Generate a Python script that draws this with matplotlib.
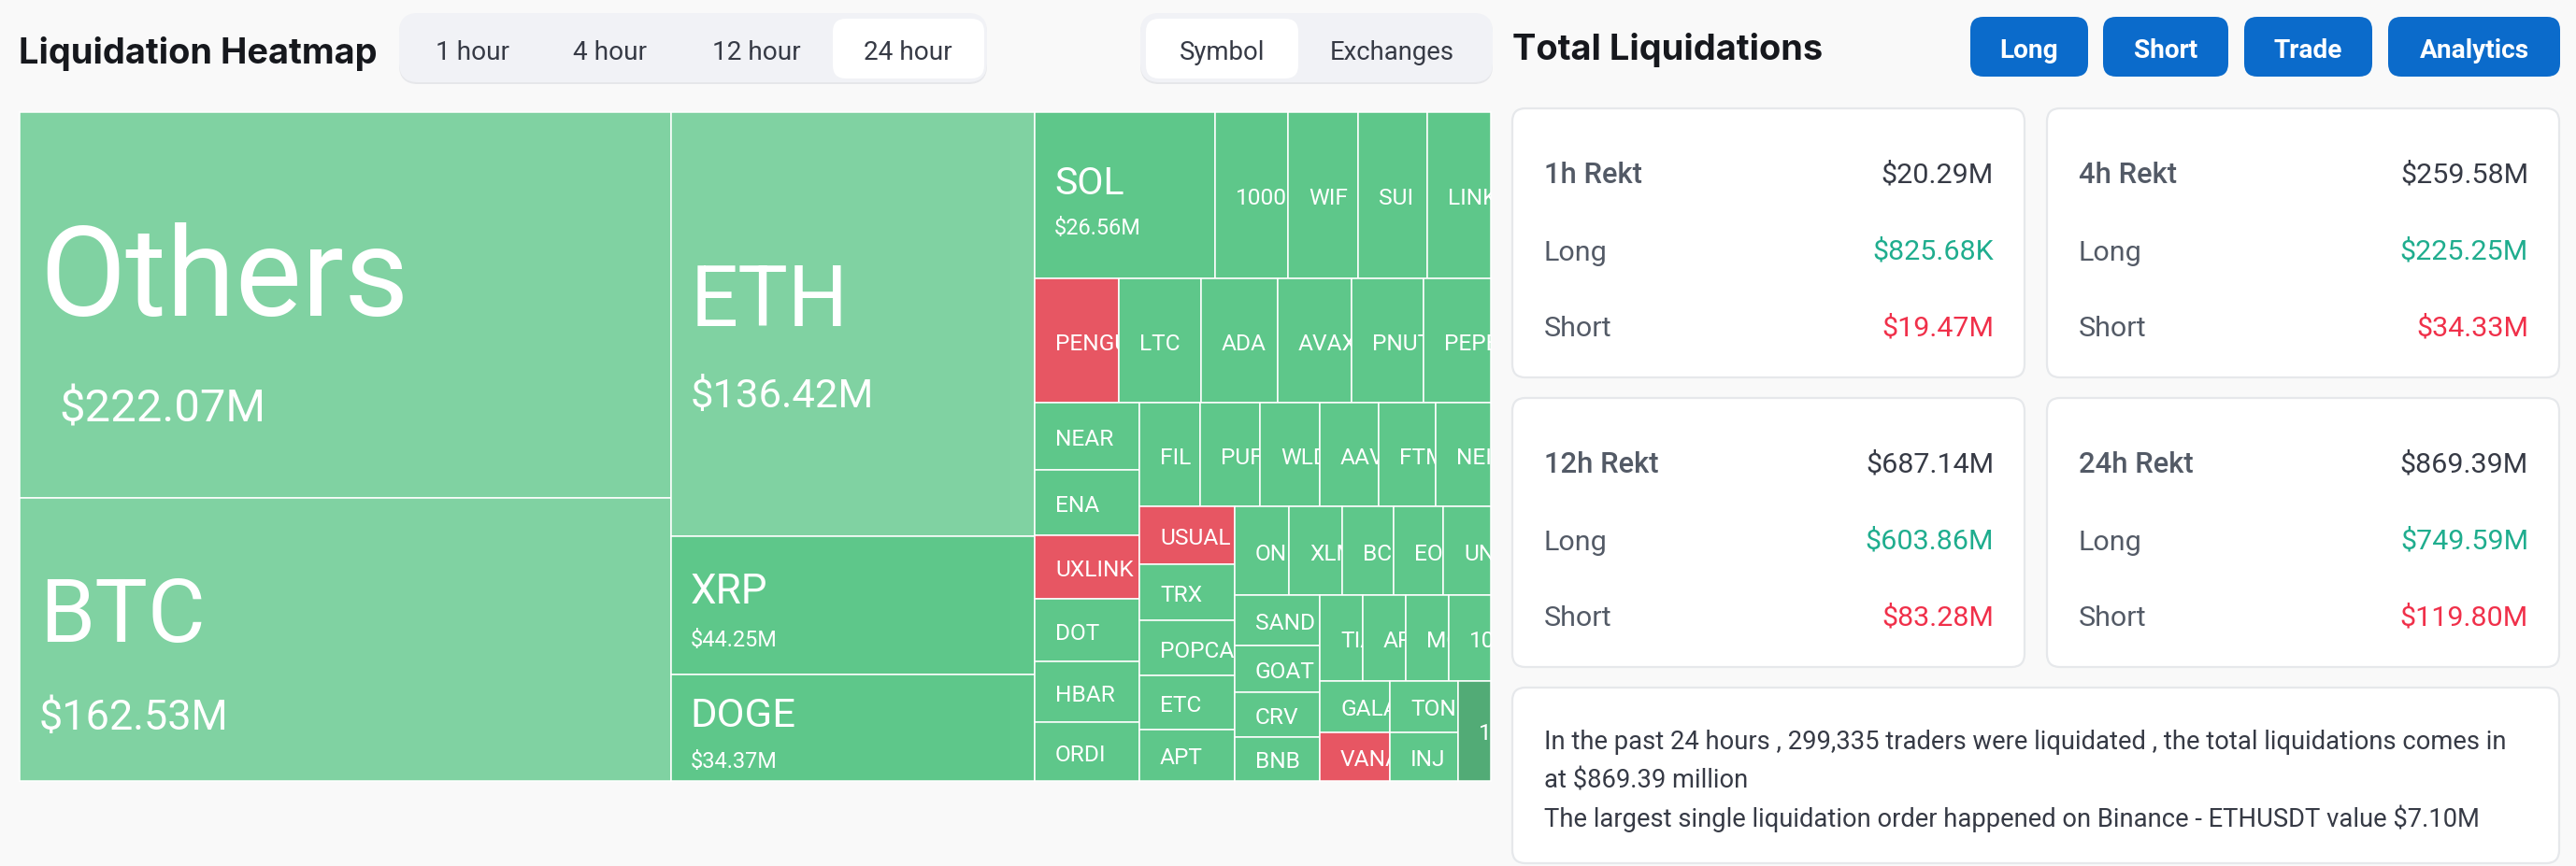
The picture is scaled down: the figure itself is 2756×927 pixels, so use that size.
import matplotlib
matplotlib.use('Agg')
import matplotlib.pyplot as plt
from matplotlib.patches import FancyBboxPatch, Rectangle

W, H = 2756, 928
PX = 0.72  # px to pt at dpi 100

# treemap groups, values in $M, peeled off the remaining area in this order
col1_names = ['Others', 'BTC']
col1_values = [222.07, 162.53]
col2_names = ['ETH', 'XRP', 'DOGE']
col2_values = [136.42, 44.25, 34.37]
row_a_names = ['SOL', '1000P', 'WIF', 'SUI', 'LINK']
row_a_values = [26.56, 10.70, 10.29, 10.15, 9.33]
row_b_names = ['PENGU', 'LTC', 'ADA', 'AVAX', 'PNUT', 'PEPE']
row_b_values = [9.23, 9.02, 8.41, 8.10, 7.90, 7.38]
col3_names = ['NEAR', 'ENA', 'UXLINK', 'DOT', 'HBAR', 'ORDI']
col3_values = [6.22, 6.04, 5.87, 5.79, 5.61, 5.44]
row_c_names = ['FIL', 'PUFF', 'WLD', 'AAVE', 'FTM', 'NEIRO']
row_c_values = [5.56, 5.48, 5.48, 5.39, 5.22, 5.05]
col4_names = ['USUAL', 'TRX', 'POPCAT', 'ETC', 'APT']
col4_values = [4.88, 4.72, 4.64, 4.56, 4.33]
row_d_names = ['OND', 'XLM', 'BCH', 'EOS', 'UNI']
row_d_values = [4.25, 4.18, 4.03, 3.88, 3.74]
col5_names = ['SAND', 'GOAT', 'CRV', 'BNB']
col5_values = [3.79, 3.51, 3.37, 3.30]
row_e_names = ['TIA', 'ARB', 'MOV', '100']
row_e_values = [3.26, 3.26, 3.26, 3.19]
col6_names = ['GALA', 'VANA']
col6_values = [3.18, 3.01]
col7_names = ['TON', 'INJ']
col7_values = [3.10, 2.93]
col8_names = ['1']
col8_values = [2.89]

red_names = ['PENGU', 'UXLINK', 'USUAL', 'VANA']
light_names = ['Others', 'BTC', 'ETH']
dark_names = ['1']

hour_tabs = ['1 hour', '4 hour', '12 hour', '24 hour']
view_tabs = ['Symbol', 'Exchanges']
buttons = ['Long', 'Short', 'Trade', 'Analytics']

card_titles = ['1h Rekt', '4h Rekt', '12h Rekt', '24h Rekt']
card_totals = ['$20.29M', '$259.58M', '$687.14M', '$869.39M']
card_longs = ['$825.68K', '$225.25M', '$603.86M', '$749.59M']
card_shorts = ['$19.47M', '$34.33M', '$83.28M', '$119.80M']

summary_lines = [
    'In the past 24 hours , 299,335 traders were liquidated , the total liquidations comes in',
    'at $869.39 million',
    'The largest single liquidation order happened on Binance - ETHUSDT value $7.10M',
]

BG = '#f9f9f9'
plt.rcParams['font.family'] = ['Roboto', 'DejaVu Sans']

fig = plt.figure(figsize=(W / 100, H / 100), dpi=100, facecolor=BG)
ax = fig.add_axes([0, 0, 1, 1])
ax.set_xlim(0, W)
ax.set_ylim(H, 0)
ax.axis('off')


def box(x0, y0, x1, y1, r, fc, ec='none', lw=0, z=1):
    p = FancyBboxPatch((x0 + r, y0 + r), x1 - x0 - 2 * r, y1 - y0 - 2 * r,
                       boxstyle='round,pad=%f,rounding_size=%f' % (r, r),
                       fc=fc, ec=ec, lw=lw, zorder=z)
    ax.add_patch(p)
    return p


def txt(x, y, s, px, color='#363a45', ha='left', weight='normal', family=None, z=5):
    kw = {}
    if family:
        kw['family'] = family
    return ax.text(x, y, s, fontsize=px * PX, color=color, ha=ha, va='center_baseline',
                   fontweight=weight, zorder=z, **kw)


def clipped(t, patch):
    t.set_clip_path(patch)
    t.set_clip_on(True)


# big tiles: name size, value size, name offset, value offset from tile centre, value pad
big_style = {
    'Others': (134, 49, -40, 106, 42),
    'BTC': (95, 45, -34, 79, 21),
    'ETH': (90, 43.5, -33, 72, 21),
    'XRP': (44, 23.5, -19, 34, 21),
    'DOGE': (43.5, 23.5, -18, 33, 21),
    'SOL': (41, 23.5, -18, 32, 21),
}

groups = [
    (col1_names, col1_values, 'v'),
    (col2_names, col2_values, 'v'),
    (row_a_names, row_a_values, 'h'),
    (row_b_names, row_b_values, 'h'),
    (col3_names, col3_values, 'v'),
    (row_c_names, row_c_values, 'h'),
    (col4_names, col4_values, 'v'),
    (row_d_names, row_d_values, 'h'),
    (col5_names, col5_values, 'v'),
    (row_e_names, row_e_values, 'h'),
    (col6_names, col6_values, 'v'),
    (col7_names, col7_values, 'v'),
    (col8_names, col8_values, 'v'),
]


def tile(name, value, x0, y0, x1, y1):
    if name in red_names:
        c = '#e75663'
    elif name in light_names:
        c = '#80d2a2'
    elif name in dark_names:
        c = '#52ab76'
    else:
        c = '#5ec78a'
    r = Rectangle((x0, y0), x1 - x0, y1 - y0, fc=c, ec='white', lw=1.1, zorder=2)
    ax.add_patch(r)
    cy = (y0 + y1) / 2
    if name in big_style:
        name_px, value_px, name_dy, value_dy, pad = big_style[name]
        clipped(txt(x0 + 21, cy + name_dy, name, name_px, 'white'), r)
        clipped(txt(x0 + pad, cy + value_dy, '$%.2fM' % value, value_px, 'white'), r)
    else:
        clipped(txt(x0 + 22, cy, name, 24.5, 'white'), r)


rx0, ry0, rx1, ry1 = 21, 121, 1595, 837
remaining = sum(sum(g[1]) for g in groups)
for names, values, direction in groups:
    total = sum(values)
    share = total / remaining
    if direction == 'v':
        x_end = rx0 + (rx1 - rx0) * share
        y = ry0
        for n, v in zip(names, values):
            y2 = y + (ry1 - ry0) * v / total
            tile(n, v, rx0, y, x_end, y2)
            y = y2
        rx0 = x_end
    else:
        y_end = ry0 + (ry1 - ry0) * share
        x = rx0
        for n, v in zip(names, values):
            x2 = x + (rx1 - rx0) * v / total
            tile(n, v, x, ry0, x2, y_end)
            x = x2
        ry0 = y_end
    remaining -= total

# headers
txt(20, 53, 'Liquidation Heatmap', 38, '#16181d', weight='bold', family='Inter')
txt(1618, 50, 'Total Liquidations', 38, '#16181d', weight='bold', family='Inter')

# hour tabs
box(427, 17, 1056, 91, 20, '#e6e7ea')
box(427, 15, 1056, 89, 20, '#f1f2f6', z=1.1)
box(891, 21, 1053, 85, 14, 'white', z=1.2)
for s, x in zip(hour_tabs, [466, 613, 762, 924]):
    txt(x, 53, s, 28)

# symbol / exchanges tabs
box(1220, 17, 1597, 91, 20, '#e6e7ea')
box(1220, 15, 1597, 89, 20, '#f1f2f6', z=1.1)
box(1226, 21, 1389, 85, 14, 'white', z=1.2)
for s, x in zip(view_tabs, [1262, 1423]):
    txt(x, 53, s, 27.5)

# action buttons
for s, (x0, x1) in zip(buttons, [(2108, 2234), (2250, 2384), (2401, 2538), (2555, 2739)]):
    box(x0, 19, x1, 83, 14, '#0b6bcb')
    txt((x0 + x1) / 2, 51, s, 28, 'white', ha='center', weight='bold')

# stat cards
card_pos = [(1618, 2166, 117, 405), (2190, 2738, 117, 405),
            (1618, 2166, 427, 715), (2190, 2738, 427, 715)]
for i, (x0, x1, y0, y1) in enumerate(card_pos):
    box(x0, y0, x1, y1, 14, 'white', ec='#e6e8eb', lw=1.6)
    lx, rx = x0 + 34, x1 - 33
    txt(lx, y0 + 68, card_titles[i], 31, '#535a66', weight='medium')
    txt(rx, y0 + 68, card_totals[i], 30.5, '#363a45', ha='right')
    txt(lx, y0 + 151, 'Long', 30.5, '#535a66')
    txt(rx, y0 + 150, card_longs[i], 30.5, '#1fad8e', ha='right')
    txt(lx, y0 + 232, 'Short', 30.5, '#535a66')
    txt(rx, y0 + 232, card_shorts[i], 30.5, '#f0304a', ha='right')

# summary card
box(1618, 737, 2738, 925, 14, 'white', ec='#e6e8eb', lw=1.6)
for s, y in zip(summary_lines, [792, 833, 873]):
    txt(1652, y, s, 27.4)

fig.savefig('out.png', dpi=100, facecolor=BG)
